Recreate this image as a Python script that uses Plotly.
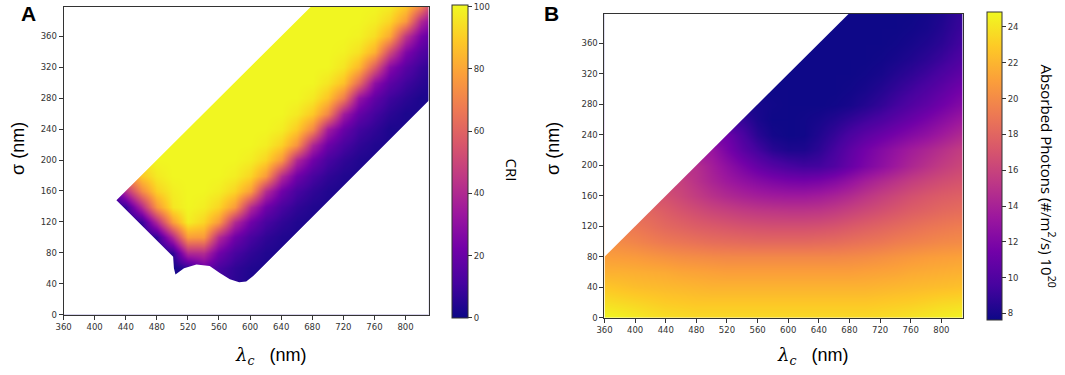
import plotly.graph_objects as go

# ---------------- data ----------------
lam = [360, 380, 400, 420, 440, 460, 480, 500, 520, 540, 560, 580, 600,
       620, 640, 660, 680, 700, 720, 740, 760, 780, 800, 820, 840]
sig = [0, 20, 40, 60, 80, 100, 120, 140, 160, 180, 200, 220, 240, 260,
       280, 300, 320, 340, 360, 380, 400]

# Panel A: CRI (rows = sigma, cols = lambda_c)
cri = [
    [2, 2, 2, 2, 2, 2, 2, 2, 2, 2, 2, 3, 3, 3, 3, 3, 3, 3, 3, 3, 3, 3, 3, 3, 3],
    [2, 2, 2, 2, 2, 2, 2, 2, 2, 2, 6, 3, 3, 3, 3, 3, 3, 3, 3, 3, 3, 3, 3, 3, 3],
    [2, 2, 2, 2, 2, 2, 2, 2, 2, 8, 10, 6, 3, 3, 3, 3, 3, 3, 3, 3, 3, 3, 3, 3, 3],
    [2, 2, 2, 2, 2, 2, 2, 2, 6, 20, 12, 7, 4, 3, 3, 3, 3, 3, 3, 3, 3, 3, 3, 3, 3],
    [2, 2, 2, 2, 2, 2, 2, 6, 40, 41, 22, 12, 7, 4, 3, 3, 3, 3, 3, 3, 3, 3, 3, 3, 3],
    [2, 2, 2, 2, 2, 2, 7, 40, 78, 77, 41, 22, 12, 7, 4, 3, 3, 3, 3, 3, 3, 3, 3, 3, 3],
    [2, 2, 2, 2, 2, 8, 40, 78, 98, 92, 77, 41, 22, 12, 7, 4, 3, 3, 3, 3, 3, 3, 3, 3, 3],
    [2, 2, 2, 2, 8, 40, 76, 96, 100, 98, 92, 77, 41, 22, 12, 7, 4, 3, 3, 3, 3, 3, 3, 3, 3],
    [2, 2, 2, 8, 42, 72, 91, 98, 100, 100, 98, 92, 78, 42, 22, 12, 7, 4, 3, 3, 3, 3, 3, 3, 3],
    [2, 2, 8, 42, 72, 89, 97, 100, 100, 100, 100, 98, 92, 77, 41, 22, 12, 7, 4, 3, 3, 3, 3, 3, 3],
    [2, 8, 42, 72, 89, 97, 100, 100, 100, 100, 100, 100, 98, 92, 76, 40, 22, 12, 7, 4, 3, 3, 3, 3, 3],
    [8, 42, 72, 89, 97, 100, 100, 100, 100, 100, 100, 100, 100, 98, 91, 75, 39, 21, 12, 7, 4, 3, 3, 3, 3],
    [42, 72, 89, 97, 100, 100, 100, 100, 100, 100, 100, 100, 100, 100, 98, 90, 72, 36, 20, 11, 7, 3, 3, 3, 3],
    [72, 89, 97, 100, 100, 100, 100, 100, 100, 100, 100, 100, 100, 100, 100, 97, 89, 71, 35, 19, 11, 6, 3, 3, 3],
    [89, 97, 100, 100, 100, 100, 100, 100, 100, 100, 100, 100, 100, 100, 100, 100, 97, 88, 68, 32, 18, 10, 6, 3, 3],
    [97, 100, 100, 100, 100, 100, 100, 100, 100, 100, 100, 100, 100, 100, 100, 100, 100, 96, 87, 63, 30, 17, 10, 6, 3],
    [100, 100, 100, 100, 100, 100, 100, 100, 100, 100, 100, 100, 100, 100, 100, 100, 100, 100, 96, 85, 58, 28, 16, 9, 5],
    [100, 100, 100, 100, 100, 100, 100, 100, 100, 100, 100, 100, 100, 100, 100, 100, 100, 100, 99, 95, 83, 52, 26, 15, 9],
    [100, 100, 100, 100, 100, 100, 100, 100, 100, 100, 100, 100, 100, 100, 100, 100, 100, 100, 100, 99, 94, 81, 45, 24, 13],
    [100, 100, 100, 100, 100, 100, 100, 100, 100, 100, 100, 100, 100, 100, 100, 100, 100, 100, 100, 100, 98, 92, 77, 41, 22],
    [100, 100, 100, 100, 100, 100, 100, 100, 100, 100, 100, 100, 100, 100, 100, 100, 100, 100, 100, 100, 100, 98, 90, 73, 37],
]

# Panel A: outline of the region where CRI is defined (lambda_c, sigma)
a_edge_lam = [680, 428, 501, 502, 504, 515, 531, 548, 561, 574, 586, 595, 604, 830]
a_edge_sig = [400, 148, 75, 60, 52, 60, 65, 63, 54, 46, 42, 43, 50, 277]

# Panel B: absorbed photons (1e20 #/m^2/s)
photons = [
    [24.8, 24.6, 24.3, 24.0, 23.8, 23.7, 23.6, 23.6, 23.6, 23.6, 23.6, 23.6, 23.6, 23.6, 23.6, 23.6, 23.6, 23.6, 23.7, 23.8, 24.0, 24.2, 24.4, 24.6, 24.8],
    [23.8, 23.6, 23.4, 23.2, 23.0, 22.9, 22.8, 22.8, 22.8, 22.8, 22.8, 22.8, 22.8, 22.8, 22.8, 22.8, 22.8, 22.8, 22.9, 23.0, 23.1, 23.3, 23.5, 23.6, 23.8],
    [22.8, 22.6, 22.4, 22.3, 22.2, 22.1, 22.0, 21.9, 21.9, 21.9, 21.9, 21.9, 21.9, 21.9, 21.9, 21.9, 21.9, 21.9, 22.0, 22.1, 22.2, 22.3, 22.4, 22.5, 22.6],
    [21.8, 21.8, 21.7, 21.6, 21.5, 21.3, 21.2, 21.1, 21.0, 21.0, 21.0, 21.0, 21.0, 21.0, 21.0, 21.0, 21.0, 21.1, 21.2, 21.3, 21.5, 21.6, 21.7, 21.8, 21.8],
    [21.0, 20.9, 20.8, 20.6, 20.4, 20.2, 20.1, 20.0, 19.9, 19.9, 19.9, 19.9, 19.9, 19.9, 19.9, 19.9, 20.0, 20.1, 20.3, 20.5, 20.7, 20.9, 21.0, 21.1, 21.1],
    [20.2, 20.0, 19.7, 19.4, 19.1, 18.9, 18.7, 18.5, 18.4, 18.3, 18.2, 18.2, 18.2, 18.2, 18.3, 18.4, 18.6, 18.8, 19.0, 19.3, 19.5, 19.7, 19.9, 20.0, 20.0],
    [19.4, 19.2, 19.0, 18.6, 18.2, 17.9, 17.6, 17.4, 17.2, 17.0, 16.9, 16.8, 16.8, 16.8, 16.9, 17.1, 17.4, 17.7, 18.0, 18.3, 18.6, 18.9, 19.1, 19.3, 19.3],
    [18.6, 18.4, 18.2, 18.0, 17.5, 17.0, 16.6, 16.2, 15.9, 15.6, 15.4, 15.3, 15.2, 15.2, 15.3, 15.6, 16.0, 16.4, 16.8, 17.2, 17.6, 17.9, 18.2, 18.4, 18.5],
    [17.4, 17.2, 17.0, 16.9, 16.8, 16.2, 15.6, 15.0, 14.5, 14.1, 13.8, 13.6, 13.5, 13.5, 13.7, 14.1, 14.6, 15.2, 15.8, 16.3, 16.8, 17.2, 17.5, 17.7, 17.8],
    [16.4, 16.3, 16.2, 16.1, 16.0, 15.8, 15.0, 14.2, 13.5, 12.9, 12.4, 12.0, 11.7, 11.6, 11.8, 12.3, 13.0, 13.8, 14.5, 15.1, 15.7, 16.2, 16.6, 16.9, 17.0],
    [15.5, 15.4, 15.3, 15.2, 15.1, 15.0, 14.8, 13.8, 12.8, 11.8, 10.9, 10.2, 9.7, 9.4, 9.5, 10.1, 11.0, 11.9, 12.7, 13.5, 14.3, 15.0, 15.6, 16.1, 16.4],
    [14.0, 13.9, 13.8, 13.7, 13.6, 13.5, 13.4, 13.2, 11.8, 10.5, 9.5, 8.6, 8.2, 8.2, 8.7, 9.6, 10.6, 11.5, 12.3, 13.0, 13.7, 14.3, 14.9, 15.5, 15.9],
    [12.0, 11.9, 11.9, 11.8, 11.8, 11.7, 11.6, 11.5, 11.3, 9.8, 8.6, 7.9, 7.7, 7.8, 8.3, 9.0, 9.8, 10.5, 11.1, 11.7, 12.3, 12.9, 13.6, 14.3, 14.9],
    [9.6, 9.6, 9.5, 9.5, 9.4, 9.4, 9.3, 9.3, 9.2, 9.0, 8.1, 7.7, 7.7, 7.8, 8.0, 8.4, 8.9, 9.4, 9.9, 10.5, 11.1, 11.8, 12.5, 13.2, 13.8],
    [8.2, 8.2, 8.2, 8.2, 8.2, 8.2, 8.2, 8.1, 8.1, 8.0, 8.0, 7.8, 7.7, 7.7, 7.7, 7.8, 8.0, 8.4, 8.9, 9.5, 10.1, 10.7, 11.4, 12.1, 12.6],
    [7.8, 7.8, 7.8, 7.8, 7.8, 7.8, 7.8, 7.8, 7.8, 7.8, 7.8, 7.7, 7.7, 7.7, 7.7, 7.7, 7.8, 8.0, 8.4, 8.9, 9.4, 10.0, 10.6, 11.3, 11.8],
    [7.7, 7.7, 7.7, 7.7, 7.7, 7.7, 7.7, 7.7, 7.7, 7.7, 7.7, 7.7, 7.7, 7.7, 7.7, 7.7, 7.7, 7.8, 8.0, 8.4, 8.8, 9.3, 9.9, 10.5, 11.0],
    [7.7, 7.7, 7.7, 7.7, 7.7, 7.7, 7.7, 7.7, 7.7, 7.7, 7.7, 7.7, 7.7, 7.7, 7.7, 7.7, 7.7, 7.7, 7.8, 8.0, 8.3, 8.7, 9.2, 9.8, 10.4],
    [7.7, 7.7, 7.7, 7.7, 7.7, 7.7, 7.7, 7.7, 7.7, 7.7, 7.7, 7.7, 7.7, 7.7, 7.7, 7.7, 7.7, 7.7, 7.7, 7.8, 8.0, 8.3, 8.7, 9.3, 9.9],
    [7.7, 7.7, 7.7, 7.7, 7.7, 7.7, 7.7, 7.7, 7.7, 7.7, 7.7, 7.7, 7.7, 7.7, 7.7, 7.7, 7.7, 7.7, 7.7, 7.7, 7.8, 8.0, 8.4, 9.0, 9.5],
    [7.7, 7.7, 7.7, 7.7, 7.7, 7.7, 7.7, 7.7, 7.7, 7.7, 7.7, 7.7, 7.7, 7.7, 7.7, 7.7, 7.7, 7.7, 7.7, 7.7, 7.7, 7.9, 8.2, 8.8, 9.3],
]

# Panel B: upper-left limit of the defined region
b_edge_lam = [360, 680]
b_edge_sig = [80, 400]

x_ticks = [360, 400, 440, 480, 520, 560, 600, 640, 680, 720, 760, 800]
y_ticks = [0, 40, 80, 120, 160, 200, 240, 280, 320, 360]
cri_ticks = [0, 20, 40, 60, 80, 100]
ph_ticks = [8, 10, 12, 14, 16, 18, 20, 22, 24]

# ---------------- figure ----------------
W, H = 1065, 375
def px(x): return x / W
def py(y): return 1 - y / H

TICKFONT = dict(family="DejaVu Sans", size=8.5, color="#333")
axis_common = dict(showline=True, mirror=True, linecolor="#333", linewidth=1,
                   ticks="outside", ticklen=4, tickwidth=1, tickcolor="#333",
                   showgrid=False, zeroline=False, tickfont=TICKFONT)

fig = go.Figure()

fig.add_trace(go.Heatmap(
    x=lam, y=sig, z=cri, xaxis="x", yaxis="y", zsmooth="best",
    colorscale="Plasma", zmin=0, zmax=100.6, hoverinfo="skip",
    colorbar=dict(x=px(447), xanchor="left", xpad=0, ypad=0,
                  y=py(163.5), yanchor="middle", len=313, lenmode="pixels",
                  thickness=16, thicknessmode="pixels",
                  outlinewidth=1, outlinecolor="#333",
                  ticks="outside", ticklen=4, tickcolor="#333",
                  tickmode="array", tickvals=cri_ticks,
                  ticktext=[str(t) for t in cri_ticks], tickfont=TICKFONT)))

XA = [360, 830]
YA = [0, 398]
mask_a_x = [XA[0] - 20, XA[0] - 20] + a_edge_lam + [XA[1] + 20, XA[1] + 20]
mask_a_y = [YA[0] - 20, YA[1] + 20] + a_edge_sig + [a_edge_sig[-1], YA[0] - 20]
fig.add_trace(go.Scatter(x=mask_a_x, y=mask_a_y, xaxis="x", yaxis="y",
                         mode="lines", fill="toself", fillcolor="white",
                         line=dict(width=0, color="white"), hoverinfo="skip",
                         showlegend=False))

fig.add_trace(go.Heatmap(
    x=lam, y=sig, z=photons, xaxis="x2", yaxis="y2", zsmooth="best",
    colorscale="Plasma", zmin=7.65, zmax=24.85, hoverinfo="skip",
    colorbar=dict(x=px(986), xanchor="left", xpad=0, ypad=0,
                  y=py(168), yanchor="middle", len=308, lenmode="pixels",
                  thickness=15, thicknessmode="pixels",
                  outlinewidth=1, outlinecolor="#333",
                  ticks="outside", ticklen=4, tickcolor="#333",
                  tickvals=ph_ticks, tickfont=TICKFONT)))

XB = [360, 828]
YB = [0, 399]
mask_b_x = [XB[0] - 20, XB[0] - 20, b_edge_lam[1] + 20, b_edge_lam[0] - 20]
mask_b_y = [b_edge_sig[0] - 20, YB[1] + 20, b_edge_sig[1] + 20, b_edge_sig[0] - 20]
fig.add_trace(go.Scatter(x=mask_b_x, y=mask_b_y, xaxis="x2", yaxis="y2",
                         mode="lines", fill="toself", fillcolor="white",
                         line=dict(width=0, color="white"), hoverinfo="skip",
                         showlegend=False))

fig.update_layout(
    width=W, height=H, margin=dict(l=0, r=0, t=0, b=0),
    paper_bgcolor="white", plot_bgcolor="white", showlegend=False,
    xaxis=dict(domain=[px(56), px(424)], range=XA, tickvals=x_ticks, anchor="y", **axis_common),
    yaxis=dict(domain=[py(319), py(7)], range=YA, tickvals=y_ticks, anchor="x", **axis_common),
    xaxis2=dict(domain=[px(601), px(962)], range=XB, tickvals=x_ticks, anchor="y2", **axis_common),
    yaxis2=dict(domain=[py(322), py(14)], range=YB, tickvals=y_ticks, anchor="x2", **axis_common),
)

lam_title = ("<span style='font-family:DejaVu Serif'><i>λ<sub>c</sub></i></span>"
             "   (nm)")
ann = [
    dict(text="<b>A</b>", x=px(21), y=py(14), font=dict(size=21, family="Liberation Sans", color="black")),
    dict(text="<b>B</b>", x=px(548), y=py(14), font=dict(size=21, family="Liberation Sans", color="black")),
    dict(text="σ (nm)", x=px(10), y=py(150), textangle=-90, font=dict(size=18, family="Liberation Sans", color="black")),
    dict(text="σ (nm)", x=px(549), y=py(150), textangle=-90, font=dict(size=18, family="Liberation Sans", color="black")),
    dict(text=lam_title, x=px(264), y=py(361), font=dict(size=18, family="Liberation Sans", color="black")),
    dict(text=lam_title, x=px(811), y=py(361), font=dict(size=18, family="Liberation Sans", color="black")),
    dict(text="CRI", x=px(508), y=py(172), textangle=90, font=dict(size=15, family="Open Sans", color="black")),
    dict(text="Absorbed Photons (#/m<sup>2</sup>/s) 10<sup>20</sup>", x=px(1048), y=py(178), textangle=90,
         font=dict(size=15, family="Open Sans", color="black")),
]
for a in ann:
    a.update(xref="paper", yref="paper", showarrow=False, xanchor="center", yanchor="middle")
fig.update_layout(annotations=ann)

fig.write_html("out.html", config={"displayModeBar": False},
               post_script="document.body.style.margin='0';")
